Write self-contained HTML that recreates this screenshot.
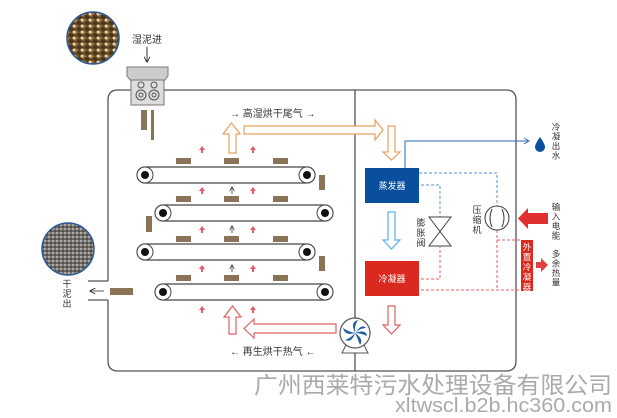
<!DOCTYPE html>
<html><head><meta charset="utf-8"><style>
html,body{margin:0;padding:0;background:#fff;}
svg{display:block;}
text{font-family:"Liberation Sans","Noto Sans CJK SC",sans-serif;}
</style></head><body>
<svg width="617" height="418" viewBox="0 0 617 418" xmlns="http://www.w3.org/2000/svg">
<defs>
<radialGradient id="wet" cx="50%" cy="45%" r="55%"><stop offset="0" stop-color="#a8824a"/><stop offset="0.6" stop-color="#7a5a30"/><stop offset="1" stop-color="#4a3418"/></radialGradient>
<pattern id="wetp" width="8" height="6" patternUnits="userSpaceOnUse"><rect width="8" height="6" fill="url(#wet)"/><circle cx="2" cy="2" r="1.5" fill="#e8d6b0"/><circle cx="6" cy="4" r="1" fill="#3a2810"/></pattern>
<pattern id="dryp" width="4" height="4" patternUnits="userSpaceOnUse"><rect width="4" height="4" fill="#6e6a66"/><circle cx="1" cy="1" r="0.9" fill="#d8d4d0"/><circle cx="3" cy="3" r="0.8" fill="#2e2a28"/><circle cx="3" cy="1" r="0.5" fill="#a8a4a0"/></pattern>
<marker id="ah" viewBox="0 0 10 10" refX="9" refY="5" markerWidth="6" markerHeight="6" orient="auto"><path d="M0,0 L10,5 L0,10" fill="none" stroke="#333" stroke-width="1.5"/></marker>
</defs>

<path d="M108,281 L108,100 Q108,90 118,90 L506,90 Q516,90 516,100 L516,361 Q516,371 506,371 L118,371 Q108,371 108,361 L108,300" fill="none" stroke="#555" stroke-width="1.3"/>
<line x1="88" y1="281" x2="108" y2="281" stroke="#555" stroke-width="1.3"/>
<line x1="88" y1="300" x2="108" y2="300" stroke="#555" stroke-width="1.3"/>
<line x1="355" y1="90" x2="355" y2="371" stroke="#555" stroke-width="1.3"/>

<circle cx="93" cy="38" r="26" fill="url(#wetp)" stroke="#2a5a9a" stroke-width="1.5"/>
<text x="147" y="43" font-size="10" text-anchor="middle" fill="#333">湿泥进</text>
<line x1="147" y1="47" x2="147" y2="62" stroke="#333" stroke-width="1" marker-end="url(#ah)"/>
<path d="M127,67 L168,67 L168,76 L164,81 L131,81 L127,76 Z" fill="#ccc" stroke="#777" stroke-width="1"/>
<rect x="131" y="80" width="33" height="25" fill="#ddd" stroke="#777" stroke-width="1"/>
<g fill="none" stroke="#555" stroke-width="1">
<circle cx="141" cy="85" r="3"/><circle cx="141" cy="95" r="5"/><circle cx="141" cy="95" r="2"/>
<circle cx="154" cy="85" r="3"/><circle cx="154" cy="95" r="5"/><circle cx="154" cy="95" r="2"/>
</g>
<rect x="141" y="110" width="6" height="20" fill="#8b7355"/>
<rect x="151" y="110" width="3" height="30" fill="#8b7355"/>

<circle cx="68" cy="249" r="26" fill="url(#dryp)" stroke="#2a5a9a" stroke-width="1.5"/>
<text font-size="9" fill="#333" text-anchor="middle"><tspan x="67" y="287">干</tspan><tspan x="67" y="297">泥</tspan><tspan x="67" y="307">出</tspan></text>
<line x1="104" y1="291" x2="90" y2="291" stroke="#555" stroke-width="1" marker-end="url(#ah)"/>
<rect x="110" y="288" width="23" height="7" fill="#8b7355"/>

<g stroke="#444" stroke-width="1.2" fill="#fff">
<rect x="137" y="167" width="178" height="16" rx="8"/>
<rect x="155" y="205" width="178" height="16" rx="8"/>
<rect x="137" y="244" width="178" height="16" rx="8"/>
<rect x="155" y="284" width="178" height="16" rx="8"/>
</g>
<g stroke="#444" stroke-width="1" fill="#fff">
<circle cx="145" cy="175" r="8"/><circle cx="307" cy="175" r="8"/>
<circle cx="163" cy="213" r="8"/><circle cx="325" cy="213" r="8"/>
<circle cx="145" cy="252" r="8"/><circle cx="307" cy="252" r="8"/>
<circle cx="163" cy="292" r="8"/><circle cx="325" cy="292" r="8"/>
</g>
<g fill="#111">
<circle cx="145" cy="175" r="4"/><circle cx="307" cy="175" r="4"/>
<circle cx="163" cy="213" r="4"/><circle cx="325" cy="213" r="4"/>
<circle cx="145" cy="252" r="4"/><circle cx="307" cy="252" r="4"/>
<circle cx="163" cy="292" r="4"/><circle cx="325" cy="292" r="4"/>
</g>
<g fill="#8b7355">
<rect x="176" y="158" width="15" height="6"/><rect x="224" y="158" width="15" height="6"/><rect x="273" y="158" width="15" height="6"/>
<rect x="176" y="196" width="15" height="6"/><rect x="224" y="196" width="15" height="6"/><rect x="273" y="196" width="15" height="6"/>
<rect x="176" y="236" width="15" height="6"/><rect x="224" y="236" width="15" height="6"/><rect x="273" y="236" width="15" height="6"/>
<rect x="176" y="275" width="15" height="6"/><rect x="224" y="275" width="15" height="6"/><rect x="273" y="275" width="15" height="6"/>
<rect x="319" y="175" width="6" height="15"/>
<rect x="146" y="216" width="6" height="16"/>
<rect x="319" y="256" width="6" height="15"/>
</g>
<g fill="#e85a6a">
<path d="M202,146 l-3,4 h2 v3 h2 v-3 h2 z"/><path d="M253,146 l-3,4 h2 v3 h2 v-3 h2 z"/>
<path d="M202,187 l-3,4 h2 v3 h2 v-3 h2 z"/><path d="M253,187 l-3,4 h2 v3 h2 v-3 h2 z"/>
<path d="M202,226 l-3,4 h2 v3 h2 v-3 h2 z"/><path d="M253,226 l-3,4 h2 v3 h2 v-3 h2 z"/>
<path d="M202,265 l-3,4 h2 v3 h2 v-3 h2 z"/><path d="M253,265 l-3,4 h2 v3 h2 v-3 h2 z"/>
<path d="M202,306 l-3,4 h2 v3 h2 v-3 h2 z"/><path d="M253,306 l-3,4 h2 v3 h2 v-3 h2 z"/>
</g>
<g stroke="#333" stroke-width="0.8">
<line x1="232" y1="194" x2="232" y2="187" marker-end="url(#ah)"/>
<line x1="232" y1="233" x2="232" y2="226" marker-end="url(#ah)"/>
<line x1="232" y1="272" x2="232" y2="265" marker-end="url(#ah)"/>
</g>

<g fill="#fff" stroke="#e8a060" stroke-width="1.2">
<path d="M229,153 V134 H223 L231.5,123 L240,134 H236 V153 Z"/>
<path d="M244,126 H375 V120 L383,130 L375,140 V134 H244 Z"/>
<path d="M388,126 H395 V152 H400 L391.5,160 L383,152 H388 Z"/>
</g>
<text x="230" y="117" font-size="10" fill="#333">→  高湿烘干尾气  →</text>

<g fill="#fff" stroke="#e06060" stroke-width="1.2">
<path d="M336,324 V333 H254 V338 L244,328.5 L254,319 V324 Z"/>
<path d="M229,334 V317 H224 L232.5,306 L241,317 H236 V334 Z"/>
<path d="M388,306 H395 V325 H400 L391.5,334 L383,325 H388 Z"/>
</g>
<g fill="#fff" stroke="#5ab0e8" stroke-width="1.2">
<path d="M388,212 H395 V240 H400 L391.5,249 L383,240 H388 Z"/>
</g>
<text x="230" y="355" font-size="10" fill="#333">←  再生烘干热气  ←</text>

<path d="M346,345 L342,353 H368 L364,345" fill="#fff" stroke="#555"/>
<circle cx="355" cy="333" r="15" fill="#fff" stroke="#555" stroke-width="1.2"/>
<g fill="#1a5aa8">
<path d="M355,333 Q350,322 358,320 Q354,326 355,333Z"/>
<path d="M355,333 Q345,336 343,328 Q349,332 355,333Z"/>
<path d="M355,333 Q352,343 345,340 Q351,338 355,333Z"/>
<path d="M355,333 Q364,339 360,345 Q358,339 355,333Z"/>
<path d="M355,333 Q366,329 367,336 Q361,333 355,333Z"/>
<path d="M355,333 Q362,323 366,328 Q360,328 355,333Z"/>
</g>

<rect x="365" y="168" width="54" height="35" fill="#0a4f9e"/>
<text x="392" y="189" font-size="9" fill="#fff" text-anchor="middle">蒸发器</text>
<rect x="365" y="261" width="54" height="35" fill="#da2a20"/>
<text x="392" y="282" font-size="9" fill="#fff" text-anchor="middle">冷凝器</text>

<path d="M405,168 V141 H528" fill="none" stroke="#2a6ab0" stroke-width="1"/>
<path d="M524,138 L529,141 L524,144" fill="none" stroke="#2a6ab0" stroke-width="1"/>
<path d="M540,137 Q535,144 535,147 A5,5 0 0 0 545,147 Q545,144 540,137Z" fill="#0a4f9e"/>
<text font-size="8.5" fill="#333" text-anchor="middle"><tspan x="556" y="130">冷</tspan><tspan x="556" y="139.5">凝</tspan><tspan x="556" y="149">出</tspan><tspan x="556" y="158.5">水</tspan></text>

<g fill="none" stroke="#5a90d0" stroke-width="1" stroke-dasharray="3,2">
<path d="M419,173 H497 V206"/>
<path d="M421,185 H440 V217"/>
</g>
<g fill="none" stroke="#e06060" stroke-width="1" stroke-dasharray="3,2">
<path d="M421,279 H440 V246"/>
<path d="M421,290 H521"/>
<path d="M497,230 V290"/>
<path d="M497,240 H521"/>
</g>

<path d="M429,217 H451 L429,246 H451 Z" fill="#fff" stroke="#444" stroke-width="1"/>
<text font-size="9" fill="#333" text-anchor="middle"><tspan x="421" y="226">膨</tspan><tspan x="421" y="236">胀</tspan><tspan x="421" y="246">阀</tspan></text>

<circle cx="497" cy="218" r="12" fill="#fff" stroke="#444" stroke-width="1.1"/>
<path d="M492,209 Q488,218 492,227 M502,209 Q506,218 502,227" fill="none" stroke="#444" stroke-width="1"/>
<text font-size="9" fill="#333" text-anchor="middle"><tspan x="477" y="213">压</tspan><tspan x="477" y="223">缩</tspan><tspan x="477" y="233">机</tspan></text>

<path d="M548,213 H528 V208 L518,218.5 L528,229 V224 H548 Z" fill="#e03030"/>
<text font-size="8.5" fill="#333" text-anchor="middle"><tspan x="556" y="210">输</tspan><tspan x="556" y="219.5">入</tspan><tspan x="556" y="229">电</tspan><tspan x="556" y="238.5">能</tspan></text>

<rect x="521" y="240" width="12" height="51" fill="#da2a20"/>
<text font-size="8.5" fill="#fff" text-anchor="middle"><tspan x="527" y="250">外</tspan><tspan x="527" y="260">置</tspan><tspan x="527" y="270">冷</tspan><tspan x="527" y="280">凝</tspan><tspan x="527" y="290">器</tspan></text>
<path d="M536,262 H541 V258 L548,265 L541,272 V268 H536 Z" fill="#e04040"/>
<text font-size="8.5" fill="#333" text-anchor="middle"><tspan x="556" y="257">多</tspan><tspan x="556" y="266.5">余</tspan><tspan x="556" y="276">热</tspan><tspan x="556" y="285.5">量</tspan></text>

<text x="254" y="393" font-size="23" fill="#aaa" textLength="358" lengthAdjust="spacingAndGlyphs">广州西莱特污水处理设备有限公司</text>
<text x="395" y="412" font-size="20" fill="#aaa" textLength="217" lengthAdjust="spacingAndGlyphs">xltwscl.b2b.hc360.com</text>
</svg>
</body></html>
